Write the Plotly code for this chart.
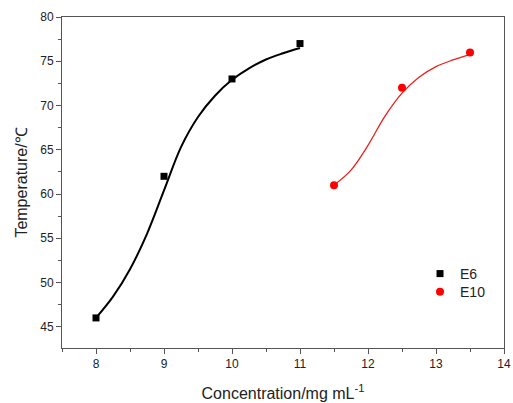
import plotly.graph_objects as go

# Measured data points
e6_x = [8, 9, 10, 11]
e6_y = [46, 62, 73, 77]
e10_x = [11.5, 12.5, 13.5]
e10_y = [61, 72, 76]

# Fitted curves
e6_fit_x = [8.0, 8.25, 8.5, 8.75, 9.0, 9.25, 9.5, 9.75, 10.0, 10.25, 10.5, 10.75, 11.0]
e6_fit_y = [46.0, 48.4, 51.5, 55.5, 60.4, 65.3, 68.7, 71.1, 72.9, 74.2, 75.2, 75.9, 76.5]
e10_fit_x = [11.5, 11.75, 12.0, 12.25, 12.5, 12.75, 13.0, 13.25, 13.5]
e10_fit_y = [61.0, 62.7, 65.5, 68.8, 71.4, 73.2, 74.4, 75.15, 75.75]

x_tick_vals = [8, 9, 10, 11, 12, 13, 14]
y_tick_vals = [45, 50, 55, 60, 65, 70, 75, 80]

FONT = "Liberation Sans, Arial, sans-serif"

fig = go.Figure()
fig.add_trace(go.Scatter(x=e6_fit_x, y=e6_fit_y, mode="lines", line=dict(color="#000000", width=2, shape="spline"),
                         showlegend=False, hoverinfo="skip"))
fig.add_trace(go.Scatter(x=e10_fit_x, y=e10_fit_y, mode="lines", line=dict(color="#e8201c", width=1.3, shape="spline"),
                         showlegend=False, hoverinfo="skip"))
fig.add_trace(go.Scatter(x=e6_x, y=e6_y, mode="markers", name="E6", legend="legend",
                         marker=dict(symbol="square", size=7, color="#000000")))
fig.add_trace(go.Scatter(x=e10_x, y=e10_y, mode="markers", name="E10", legend="legend2",
                         marker=dict(symbol="circle", size=8, color="#ff0000")))

axis_common = dict(showline=True, linecolor="#555555", linewidth=1, mirror=True, showgrid=False,
                   zeroline=False, ticks="outside", ticklen=5, tickcolor="#555555", tickwidth=1,
                   automargin=False,
                   tickfont=dict(family=FONT, size=12, color="#222222"))

fig.update_xaxes(range=[7.5, 14], tickvals=x_tick_vals,
                 title=dict(text="Concentration/mg mL<sup>-1</sup>", font=dict(family=FONT, size=16, color="#222222"), standoff=17),
                 minor=dict(ticks="outside", ticklen=3, dtick=0.5, tick0=7.5, tickcolor="#555555", showgrid=False),
                 **axis_common)
fig.update_yaxes(range=[42.6, 80], tickvals=y_tick_vals,
                 title=dict(text="Temperature/℃", font=dict(family=FONT, size=16, color="#222222"), standoff=8),
                 minor=dict(ticks="outside", ticklen=3, dtick=2.5, tick0=40, tickcolor="#555555", showgrid=False),
                 **axis_common)

legend_common = dict(x=0.81, xanchor="left", yanchor="middle", bgcolor="rgba(0,0,0,0)",
                     font=dict(family=FONT, size=14, color="#222222"), itemsizing="trace")

fig.update_layout(
    width=513, height=403,
    margin=dict(l=62, r=9, t=17, b=55),
    paper_bgcolor="white", plot_bgcolor="white",
    legend=dict(y=0.2236, **legend_common),
    legend2=dict(y=0.169, **legend_common),
    showlegend=True,
)

fig.write_html("out.html", config={"displayModeBar": False},
               post_script="document.body.style.margin='0';document.body.style.overflow='hidden';")
